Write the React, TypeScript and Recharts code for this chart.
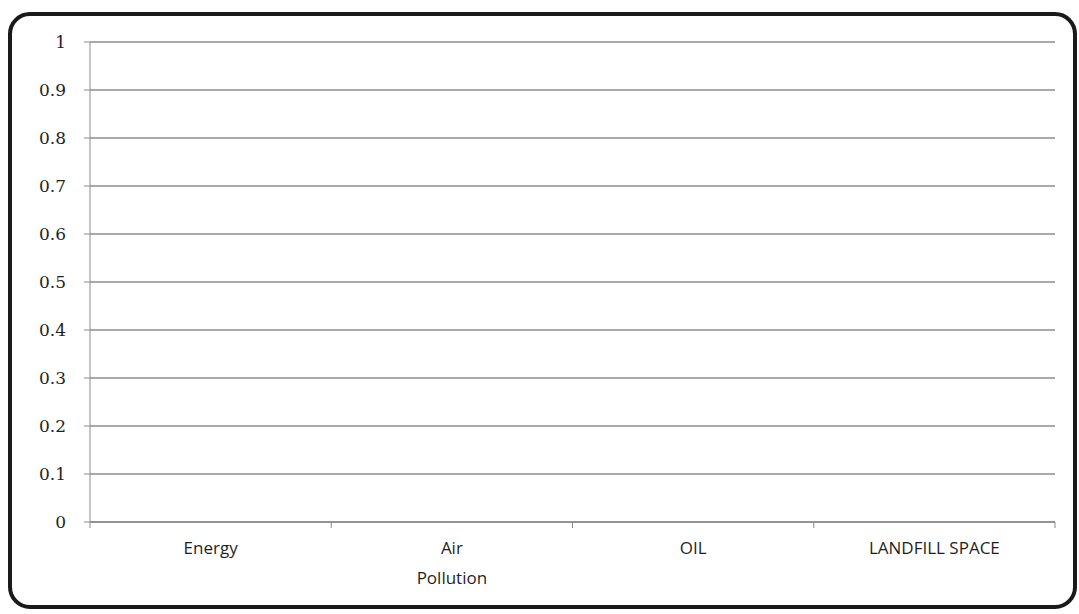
import React from "react"
import { Bar, BarChart, CartesianGrid, XAxis, YAxis } from "recharts"

// categories along the x axis ("\n" marks where the label wraps)
const categories = ["Energy", "Air\nPollution", "OIL", "LANDFILL SPACE"]
// nothing is plotted in the reference: every value reads as zero
const values = [0, 0, 0, 0]
const yTicks = [0, 0.1, 0.2, 0.3, 0.4, 0.5, 0.6, 0.7, 0.8, 0.9, 1]

const data = categories.map((name, i) => ({ name, value: values[i] }))

const gridColor = "#8c8c8c"
const textColor = "#1f1f1f"

function CategoryTick(props: any) {
  const { x, y, payload, index, visibleTicksCount } = props
  const lines = String(payload.value).split("\n")
  const half = payload.offset ?? 0
  const isLast = index === visibleTicksCount - 1
  return (
    <g>
      <line x1={x - half} x2={x - half} y1={y - 8} y2={y - 2} stroke={gridColor} />
      {isLast && <line x1={x + half} x2={x + half} y1={y - 8} y2={y - 2} stroke={gridColor} />}
      <text
        x={x}
        y={y + 24}
        textAnchor="middle"
        fill={textColor}
        fontFamily="'Open Sans', sans-serif"
        fontSize={17}
      >
        {lines.map((line, i) => (
          <tspan key={line} x={x} dy={i === 0 ? 0 : 30}>
            {line}
          </tspan>
        ))}
      </text>
    </g>
  )
}

export default function App() {
  return (
    <div style={{ position: "absolute", left: 0, top: 0, width: 1079, height: 614, background: "#fff" }}>
      <div
        style={{
          position: "absolute",
          left: 8,
          top: 12,
          width: 1061,
          height: 589,
          border: "4px solid #1a1a1a",
          borderRadius: 22,
        }}
      />
      <div style={{ position: "absolute", left: 0, top: 0 }}>
        <BarChart width={1079} height={614} data={data} margin={{ top: 42, right: 24, bottom: 32, left: 0 }}>
          <CartesianGrid stroke={gridColor} strokeWidth={1.3} vertical={false} />
          <XAxis
            dataKey="name"
            interval={0}
            height={60}
            axisLine={{ stroke: gridColor, strokeWidth: 1.3 }}
            tickLine={false}
            tick={<CategoryTick />}
          />
          <YAxis
            width={90}
            domain={[0, 1]}
            ticks={yTicks}
            interval={0}
            tickSize={6}
            tickMargin={18}
            axisLine={{ stroke: gridColor }}
            tickLine={{ stroke: gridColor }}
            tick={{ fill: textColor, fontFamily: "'DejaVu Serif', serif", fontSize: 17 }}
          />
          <Bar dataKey="value" fill="#4f81bd" isAnimationActive={false} />
        </BarChart>
      </div>
    </div>
  )
}
